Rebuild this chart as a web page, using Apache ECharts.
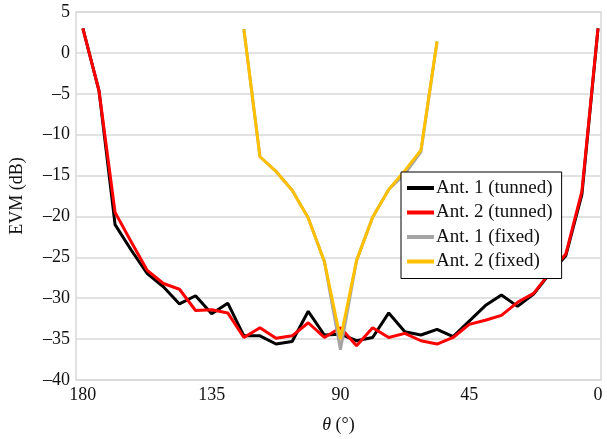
<!DOCTYPE html>
<html>
<head>
<meta charset="utf-8">
<script src="https://cdn.jsdelivr.net/npm/echarts@6/dist/echarts.min.js"></script>
<style>
  html, body { margin: 0; padding: 0; background: #fff; }
  #chart { width: 607px; height: 439px; }
</style>
</head>
<body>
<div id="chart"></div>
<script>
// angle samples (deg)
const theta = [180, 174.375, 168.75, 163.125, 157.5, 151.875, 146.25, 140.625, 135,
  129.375, 123.75, 118.125, 112.5, 106.875, 101.25, 95.625, 90, 84.375, 78.75,
  73.125, 67.5, 61.875, 56.25, 50.625, 45, 39.375, 33.75, 28.125, 22.5, 16.875,
  11.25, 5.625, 0]

const ant1Tuned = [3.0, -4.6, -21.0, -24.1, -27.0, -28.6, -30.7, -29.7, -31.9, -30.6,
  -34.6, -34.6, -35.6, -35.3, -31.6, -34.5, -34.4, -35.2, -34.8, -31.8, -34.1, -34.5,
  -33.8, -34.7, -32.8, -30.9, -29.6, -31.0, -29.5, -27.0, -24.8, -17.3, 3.0]

const ant2Tuned = [3.0, -4.6, -19.5, -23.1, -26.6, -28.2, -28.9, -31.5, -31.4, -31.8,
  -34.8, -33.6, -34.9, -34.6, -33.0, -34.8, -33.6, -35.8, -33.6, -34.8, -34.3, -35.2,
  -35.6, -34.8, -33.2, -32.7, -32.1, -30.5, -29.4, -26.9, -24.6, -16.9, 3.0]

const ant1Fixed = [null, null, null, null, null, null, null, null, null, null,
  2.9, -12.7, -14.5, -16.8, -20.2, -25.5, -36.3, -25.4, -20.1, -16.7, -14.8, -12.1,
  1.4, null, null, null, null, null, null, null, null, null, null]

const ant2Fixed = [null, null, null, null, null, null, null, null, null, null,
  2.9, -12.7, -14.5, -16.8, -20.2, -25.5, -35.0, -25.4, -20.1, -16.7, -14.4, -11.9,
  1.4, null, null, null, null, null, null, null, null, null, null]

const xTicks = [0, 45, 90, 135, 180]

const serif = '"Liberation Serif", "DejaVu Serif", serif'

function pairs(vals) {
  return theta.map((t, i) => [t, vals[i]]).filter(p => p[1] !== null)
}

function line(name, vals, color) {
  return {
    name: name,
    type: 'line',
    symbol: 'none',
    data: pairs(vals),
    lineStyle: { color: color, width: 3 },
    itemStyle: { color: color },
    animation: false
  }
}

const chart = echarts.init(document.getElementById('chart'))
chart.setOption({
  animation: false,
  grid: {
    left: 74, right: 6, top: 12, bottom: 57,
    show: true,
    borderColor: '#d9d9d9',
    borderWidth: 1.5
  },
  legend: {
    orient: 'vertical',
    left: 401,
    top: 172,
    data: ['Ant. 1 (tunned)', 'Ant. 2 (tunned)', 'Ant. 1 (fixed)', 'Ant. 2 (fixed)'],
    icon: 'rect',
    itemWidth: 27,
    itemHeight: 4,
    itemGap: 4.5,
    padding: [6, 9, 7, 6],
    borderColor: '#000',
    borderWidth: 1,
    backgroundColor: '#fff',
    textStyle: { fontFamily: serif, fontSize: 19, color: '#111', lineHeight: 20, padding: [0, 0, 0, -3] }
  },
  xAxis: {
    type: 'value',
    inverse: true,
    min: -1.04,
    max: 182.4,
    name: '{i|θ} (°)',
    nameLocation: 'middle',
    nameGap: 36,
    nameTextStyle: {
      fontFamily: serif, fontSize: 18, color: '#111',
      rich: { i: { fontFamily: serif, fontSize: 18, fontStyle: 'italic', color: '#111' } }
    },
    axisLine: { show: false },
    axisTick: { show: false },
    splitLine: { show: false },
    axisLabel: {
      customValues: xTicks,
      fontFamily: serif,
      fontSize: 18,
      color: '#111',
      margin: 6
    }
  },
  yAxis: {
    type: 'value',
    min: -40,
    max: 5,
    interval: 5,
    name: 'EVM (dB)',
    nameLocation: 'middle',
    nameGap: 50,
    nameTextStyle: { fontFamily: serif, fontSize: 18, color: '#111' },
    axisLine: { show: false },
    axisTick: { show: false },
    splitLine: { lineStyle: { color: '#d9d9d9', width: 1.5 } },
    axisLabel: {
      fontFamily: serif,
      fontSize: 18,
      color: '#111',
      margin: 6,
      formatter: v => String(v).replace('-', '\u2013')
    }
  },
  series: [
    line('Ant. 1 (tunned)', ant1Tuned, '#000000'),
    line('Ant. 2 (tunned)', ant2Tuned, '#ff0000'),
    line('Ant. 1 (fixed)', ant1Fixed, '#a5a5a5'),
    line('Ant. 2 (fixed)', ant2Fixed, '#ffc000')
  ]
})
</script>
</body>
</html>
